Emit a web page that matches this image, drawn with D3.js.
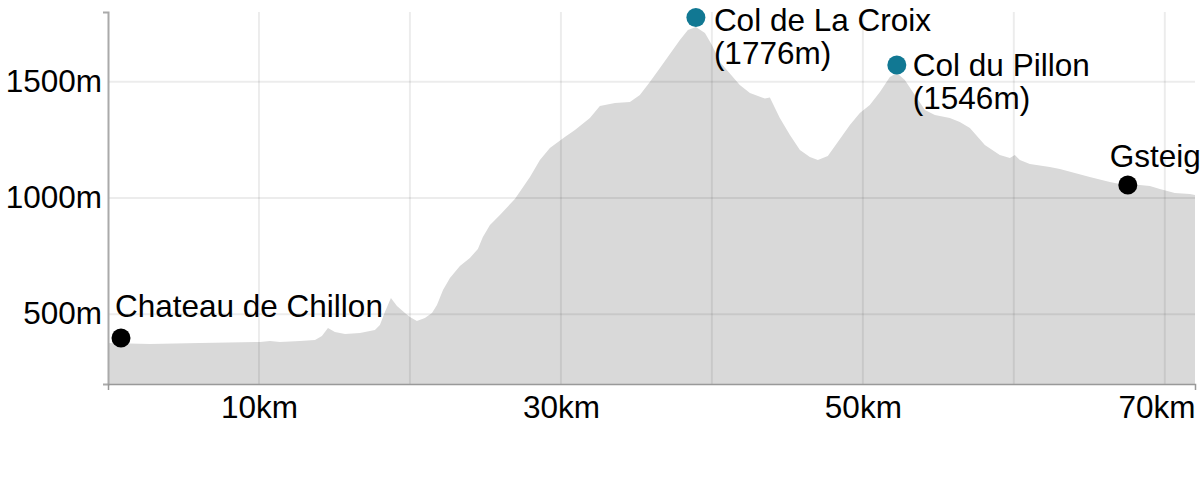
<!DOCTYPE html>
<html>
<head>
<meta charset="utf-8">
<script src="https://cdn.jsdelivr.net/npm/d3@7"></script>
<style>
  html, body { margin: 0; padding: 0; background: #fff; }
  svg { display: block; font-family: "Liberation Sans", Arial, sans-serif; }
</style>
</head>
<body>
<svg id="chart" width="1200" height="500"></svg>
<script>
// ---- Data ----
const profileKm = [0, 2.78, 6.09, 10.07, 10.73, 11.39, 12.72, 13.71, 14.17, 14.57, 15.03, 15.70, 16.69, 17.68, 18.01, 18.34, 18.74, 19.14, 19.67, 20.0, 20.46, 20.99, 21.46, 21.79, 22.19, 22.65, 23.31, 23.97, 24.50, 24.83, 25.30, 25.96, 26.95, 27.95, 28.61, 29.27, 30.26, 30.93, 31.92, 32.58, 33.58, 34.57, 35.23, 35.89, 36.56, 37.22, 37.88, 38.41, 38.94, 39.54, 40.0, 40.53, 41.85, 42.52, 43.51, 43.84, 44.50, 45.17, 45.83, 46.49, 47.02, 47.68, 48.34, 49.14, 49.80, 50.46, 51.13, 51.79, 52.25, 52.78, 53.44, 54.11, 54.77, 55.76, 56.42, 57.09, 58.08, 59.07, 59.74, 60.07, 60.40, 61.06, 62.38, 63.05, 64.04, 65.03, 66.36, 67.35, 68.34, 69.01, 69.67, 70.66, 71.66, 72.0];
const profileElev = [376, 372, 376, 381, 385, 381, 385, 389, 406, 441, 424, 415, 419, 432, 454, 510, 570, 535, 505, 488, 471, 484, 505, 540, 604, 656, 708, 742, 781, 832, 884, 927, 996, 1090, 1163, 1215, 1262, 1292, 1344, 1396, 1409, 1413, 1443, 1499, 1559, 1619, 1680, 1723, 1735, 1710, 1658, 1585, 1486, 1452, 1428, 1432, 1344, 1271, 1206, 1176, 1163, 1181, 1241, 1314, 1366, 1400, 1456, 1520, 1538, 1507, 1443, 1378, 1357, 1344, 1327, 1301, 1228, 1185, 1172, 1185, 1163, 1146, 1133, 1125, 1108, 1090, 1069, 1056, 1056, 1052, 1039, 1021, 1017, 1013];

const markerNames = ["Chateau de Chillon", "Col de La Croix", "Col du Pillon", "Gsteig"];
const markerSub   = ["", "(1776m)", "(1546m)", ""];
const markerKm    = [0.86, 38.94, 52.25, 67.55];
const markerElev  = [398, 1776, 1572, 1056];
const markerType  = ["town", "pass", "pass", "town"];

const yTickValues = [500, 1000, 1500];
const xTickValues = [10, 30, 50, 70];
const xGridValues = [10, 20, 30, 40, 50, 60, 70];

// ---- Layout / style ----
const svg = d3.select("#chart");
const x = d3.scaleLinear().domain([0, 72]).range([108, 1195]);
const y = d3.scaleLinear().domain([200, 1800]).range([384, 12]);
const FONT = 31.5;
const colors = { town: "#000000", pass: "#117893" };
const labelOffset = [
  { dx: -6, dy: -21 },
  { dx: 18, dy: 13 },
  { dx: 16, dy: 11 },
  { dx: -18, dy: -18 }
];

const profile = profileKm.map((k, i) => ({ km: k, elev: profileElev[i] }));

// Area
const area = d3.area()
  .x(d => x(d.km))
  .y0(y.range()[0])
  .y1(d => y(d.elev))
  .curve(d3.curveLinear);

svg.append("path")
  .datum(profile)
  .attr("d", area)
  .attr("fill", "#d9d9d9");

// Gridlines (drawn over the area)
const grid = svg.append("g").attr("stroke", "#000").attr("stroke-opacity", 0.075).attr("stroke-width", 2);
grid.selectAll("line.h").data(yTickValues).join("line")
  .attr("class", "h")
  .attr("x1", x.range()[0]).attr("x2", x.range()[1])
  .attr("y1", d => y(d)).attr("y2", d => y(d));
grid.selectAll("line.v").data(xGridValues).join("line")
  .attr("class", "v")
  .attr("x1", d => x(d)).attr("x2", d => x(d))
  .attr("y1", y.range()[1]).attr("y2", y.range()[0]);

// Y axis
const yAxis = svg.append("g")
  .attr("transform", `translate(${x.range()[0]},0)`)
  .call(d3.axisLeft(y).tickValues(yTickValues).tickSizeInner(0).tickSizeOuter(5).tickPadding(6).tickFormat(d => d + "m"));
yAxis.select(".domain").attr("stroke", "#aaa").attr("stroke-width", 2);
yAxis.selectAll("text").attr("font-size", FONT).attr("font-family", null).attr("fill", "#000").attr("dy", "0.3em");

// X axis
const xAxis = svg.append("g")
  .attr("transform", `translate(0,${y.range()[0]})`)
  .call(d3.axisBottom(x).tickValues(xTickValues).tickSizeInner(0).tickSizeOuter(6).tickPadding(12).tickFormat(d => d + "km"));
xAxis.select(".domain").attr("stroke", "#999").attr("stroke-width", 1.5);
xAxis.selectAll("text").attr("font-size", FONT).attr("font-family", null).attr("fill", "#000");
// keep last label inside the plot width
xAxis.selectAll(".tick").each(function(d) {
  const t = d3.select(this).select("text");
  const w = t.node().getComputedTextLength();
  const cx = x(d);
  if (cx + w / 2 > x.range()[1]) {
    t.attr("text-anchor", "end").attr("x", x.range()[1] - cx);
  }
});

// Markers
const markers = markerNames.map((n, i) => ({ name: n, sub: markerSub[i], km: markerKm[i], elev: markerElev[i], type: markerType[i], off: labelOffset[i] }));

svg.selectAll("circle.marker").data(markers).join("circle")
  .attr("class", "marker")
  .attr("cx", d => x(d.km))
  .attr("cy", d => y(d.elev))
  .attr("r", 9.5)
  .attr("fill", d => colors[d.type]);

const labels = svg.selectAll("text.mlabel").data(markers).join("text")
  .attr("class", "mlabel")
  .attr("font-size", FONT)
  .attr("fill", "#000")
  .attr("x", d => x(d.km) + d.off.dx)
  .attr("y", d => y(d.elev) + d.off.dy);
labels.append("tspan").text(d => d.name);
labels.filter(d => d.sub).append("tspan")
  .attr("x", d => x(d.km) + d.off.dx)
  .attr("dy", 33)
  .text(d => d.sub);
</script>
</body>
</html>
